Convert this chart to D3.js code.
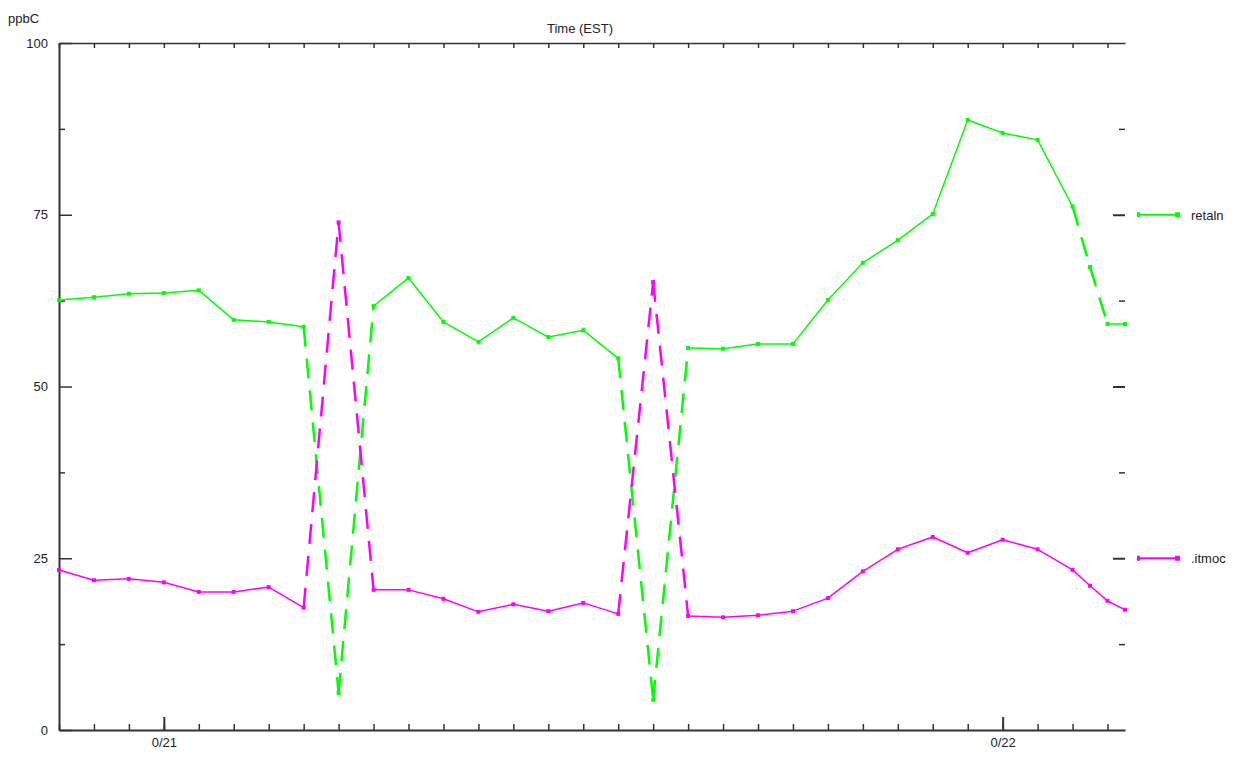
<!DOCTYPE html>
<html>
<head>
<meta charset="utf-8">
<script src="https://cdn.jsdelivr.net/npm/d3@7"></script>
<style>
  html, body { margin: 0; padding: 0; background: #fff; }
  svg { display: block; }
  text { font-family: "Liberation Sans", Arial, sans-serif; fill: #222; }
</style>
</head>
<body>
<svg id="chart" width="1239" height="759"></svg>
<script>
// ---- data ----
const times = [
  "2000-09-20T21:00Z","2000-09-20T22:00Z","2000-09-20T23:00Z",
  "2000-09-21T00:00Z","2000-09-21T01:00Z","2000-09-21T02:00Z","2000-09-21T03:00Z",
  "2000-09-21T04:00Z","2000-09-21T05:00Z","2000-09-21T06:00Z","2000-09-21T07:00Z",
  "2000-09-21T08:00Z","2000-09-21T09:00Z","2000-09-21T10:00Z","2000-09-21T11:00Z",
  "2000-09-21T12:00Z","2000-09-21T13:00Z","2000-09-21T14:00Z","2000-09-21T15:00Z",
  "2000-09-21T16:00Z","2000-09-21T17:00Z","2000-09-21T18:00Z","2000-09-21T19:00Z",
  "2000-09-21T20:00Z","2000-09-21T21:00Z","2000-09-21T22:00Z","2000-09-21T23:00Z",
  "2000-09-22T00:00Z","2000-09-22T01:00Z","2000-09-22T02:00Z","2000-09-22T02:30Z",
  "2000-09-22T03:00Z","2000-09-22T03:30Z"
];
const greenValues = [
  62.6, 63.0, 63.5, 63.6, 64.0, 59.7, 59.4, 58.7, 5.4, 61.7, 65.8,
  59.4, 56.5, 60.0, 57.2, 58.2, 54.1, 4.4, 55.6, 55.5, 56.2, 56.2,
  62.6, 68.0, 71.3, 75.1, 88.8, 86.9, 85.9, 76.2, 67.4, 59.1, 59.1
];
const magentaValues = [
  23.3, 21.8, 22.0, 21.5, 20.1, 20.1, 20.8, 17.8, 73.9, 20.4, 20.4,
  19.1, 17.2, 18.3, 17.3, 18.5, 16.9, 65.2, 16.6, 16.4, 16.7, 17.3,
  19.2, 23.1, 26.3, 28.1, 25.8, 27.7, 26.3, 23.3, 21.0, 18.8, 17.5
];
const seriesNames = ["retaln", ".itmoc"];
const seriesColors = ["#00ff00", "#ff00ff"];
const yTickValues = [0, 25, 50, 75, 100];
const yTickLabels = ["0", "25", "50", "75", "100"];
const yMinorTicks = [12.5, 37.5, 62.5, 87.5];
const xMajorLabels = ["0/21", "0/22"];
const xDomain = ["2000-09-20T21:00Z", "2000-09-22T03:30Z"];
const yLabel = "ppbC";
const title = "Time (EST)";

// ---- layout ----
const svg = d3.select("#chart");
const L = 59, R = 1125, T = 43, B = 730;
const parse = s => new Date(s);
const x = d3.scaleUtc().domain(xDomain.map(parse)).range([L, R]);
const y = d3.scaleLinear().domain([0, 100]).range([B, T]);
const axisColor = "#333";

// top axis (line + hourly ticks down)
const hours = d3.utcHour.every(1).range(parse(xDomain[0]), d3.utcMinute.offset(parse(xDomain[1]), 1));
const days = hours.filter(d => d.getUTCHours() === 0);

const gTop = svg.append("g").attr("transform", `translate(0,${T})`)
  .call(d3.axisTop(x).tickValues(hours).tickSizeInner(-5).tickSizeOuter(0).tickFormat(""));
gTop.select(".domain").attr("stroke", axisColor).attr("stroke-width", 1.5);
gTop.selectAll(".tick line").attr("stroke", axisColor).attr("stroke-width", 1.5);

// bottom axis
const gBot = svg.append("g").attr("transform", `translate(0,${B})`)
  .call(d3.axisBottom(x).tickValues(hours).tickSizeInner(-6).tickSizeOuter(0).tickFormat(""));
gBot.select(".domain").attr("stroke", axisColor).attr("stroke-width", 2);
gBot.selectAll(".tick line").attr("stroke", axisColor).attr("stroke-width", 1.5);
const gBotMaj = svg.append("g").attr("transform", `translate(0,${B})`)
  .call(d3.axisBottom(x).tickValues(days).tickSizeInner(-13).tickSizeOuter(0).tickPadding(8)
    .tickFormat((d, i) => xMajorLabels[i]));
gBotMaj.select(".domain").remove();
gBotMaj.selectAll(".tick line").attr("stroke", axisColor).attr("stroke-width", 2);
gBotMaj.selectAll(".tick text").attr("font-size", 13).style("fill", "#222");

// left axis
const gLeft = svg.append("g").attr("transform", `translate(${L},0)`)
  .call(d3.axisLeft(y).tickValues(yTickValues).tickSizeInner(-13).tickSizeOuter(0).tickPadding(11)
    .tickFormat((d, i) => yTickLabels[i]));
gLeft.select(".domain").attr("stroke", axisColor).attr("stroke-width", 2);
gLeft.selectAll(".tick line").attr("stroke", axisColor).attr("stroke-width", 1.5);
gLeft.selectAll(".tick text").attr("font-size", 13).style("fill", "#222");
const gLeftMin = svg.append("g").attr("transform", `translate(${L},0)`)
  .call(d3.axisLeft(y).tickValues(yMinorTicks).tickSizeInner(-6).tickSizeOuter(0).tickFormat(""));
gLeftMin.select(".domain").remove();
gLeftMin.selectAll(".tick line").attr("stroke", axisColor).attr("stroke-width", 1.5);

// right ticks (no line)
const gRight = svg.append("g").attr("transform", `translate(${R},0)`)
  .call(d3.axisRight(y).tickValues(yTickValues.slice(1, 4)).tickSizeInner(-12).tickSizeOuter(0).tickFormat(""));
gRight.select(".domain").remove();
gRight.selectAll(".tick line").attr("stroke", axisColor).attr("stroke-width", 2);
const gRightMin = svg.append("g").attr("transform", `translate(${R},0)`)
  .call(d3.axisRight(y).tickValues(yMinorTicks).tickSizeInner(-6).tickSizeOuter(0).tickFormat(""));
gRightMin.select(".domain").remove();
gRightMin.selectAll(".tick line").attr("stroke", axisColor).attr("stroke-width", 1.5);

// labels
svg.append("text").attr("x", 8).attr("y", 23).attr("font-size", 13).text(yLabel);
svg.append("text").attr("x", (L + R) / 2 - 12).attr("y", 33).attr("text-anchor", "middle")
  .attr("font-size", 13).text(title);

// series
const allSeries = [greenValues, magentaValues];
allSeries.forEach((vals, si) => {
  const pts = times.map((t, i) => [x(parse(t)), y(vals[i])]);
  const g = svg.append("g");
  for (let i = 0; i < pts.length - 1; i++) {
    const [x0, y0] = pts[i], [x1, y1] = pts[i + 1];
    const steep = Math.abs((y1 - y0) / (x1 - x0)) > 3;
    g.append("line")
      .attr("x1", x0).attr("y1", y0).attr("x2", x1).attr("y2", y1)
      .attr("stroke", seriesColors[si])
      .attr("stroke-width", steep ? 2.5 : 1.5)
      .attr("stroke-dasharray", steep ? "20,12" : null);
  }
  g.selectAll("rect").data(pts).join("rect")
    .attr("x", d => d[0] - 2).attr("y", d => d[1] - 2)
    .attr("width", 4).attr("height", 4)
    .attr("fill", seriesColors[si]);
});

// legend
const legendY = [y(75), y(25)];
seriesNames.forEach((name, i) => {
  const g = svg.append("g");
  g.append("line").attr("x1", 1138).attr("x2", 1180)
    .attr("y1", legendY[i]).attr("y2", legendY[i])
    .attr("stroke", seriesColors[i]).attr("stroke-width", 2);
  g.append("rect").attr("x", 1175).attr("y", legendY[i] - 2.5).attr("width", 5).attr("height", 5)
    .attr("fill", seriesColors[i]);
  g.append("rect").attr("x", 1137).attr("y", legendY[i] - 2.5).attr("width", 3).attr("height", 5)
    .attr("fill", seriesColors[i]);
  g.append("text").attr("x", 1191).attr("y", legendY[i] + 5)
    .attr("font-size", 13).text(name);
});
</script>
</body>
</html>
